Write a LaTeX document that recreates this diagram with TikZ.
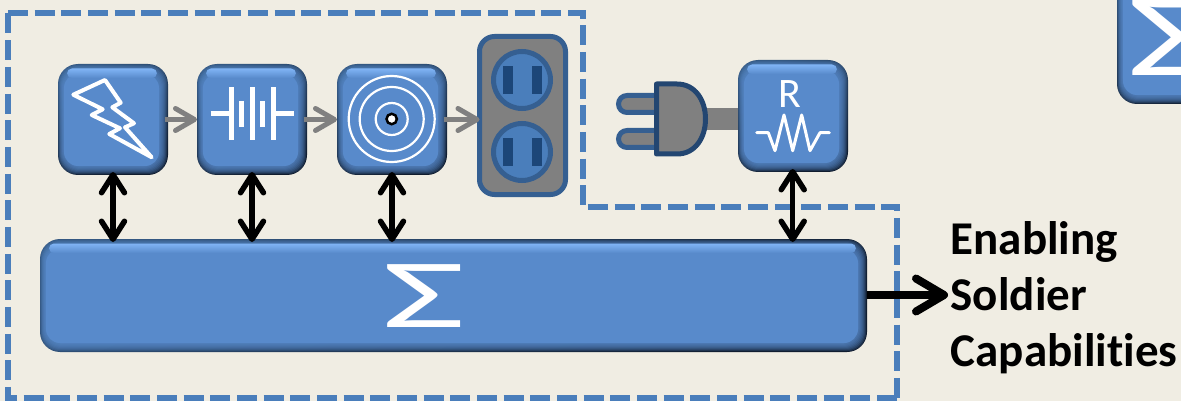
\documentclass[tikz,border=0pt]{standalone}
\usepackage{fontspec}
\setmainfont{Carlito}[Ligatures=NoCommon]
\usetikzlibrary{arrows.meta,calc}
\definecolor{bgc}{RGB}{240,237,227}
\definecolor{face}{RGB}{88,138,203}
\definecolor{edgeA}{RGB}{52,88,130}
\definecolor{edgeB}{RGB}{16,28,46}
\definecolor{hl}{RGB}{128,180,245}
\definecolor{dashc}{RGB}{74,126,187}
\definecolor{outl}{RGB}{53,95,145}
\definecolor{plugl}{RGB}{35,70,113}
\definecolor{slot}{RGB}{28,70,120}
\definecolor{grayc}{RGB}{128,128,128}
\tikzset{
  bevbase/.style={rectangle,rounded corners=20pt,inner sep=0pt,outer sep=0pt,shading=axis,top color=edgeA,bottom color=edgeB,shading angle=25},
  dashb/.style={draw=dashc,line width=6pt,dash pattern=on 20pt off 6.67pt,miter limit=10},
  grayarrow/.style={draw=grayc,line width=5pt,-{Straight Barb[length=19pt,width=22pt,line width=5pt,round]}},
  duplex/.style={draw=black,line width=5.5pt,{Straight Barb[length=18pt,width=23pt,line width=5.5pt,round]}-{Straight Barb[length=18pt,width=23pt,line width=5.5pt,round]},shorten >=-3pt,shorten <=-3pt},
  bigarrow/.style={draw=black,line width=8pt,-{Straight Barb[length=28pt,width=33pt,line width=8pt,round]}},
  wht/.style={draw=white,line join=round,line cap=round},
  sigmatxt/.style={text=white,inner sep=0pt},
  capt/.style={inner sep=0pt,align=left,anchor=west,text=black,font=\fontsize{47}{56}\selectfont\bfseries},
  sock/.style={draw=outl,line width=5pt,fill=dashc},
  slotb/.style={fill=slot},
  prong/.style={draw=outl,line width=5pt,fill=grayc},
}
\newcommand{\bevbox}[5]{%
  \node[bevbase,minimum width=#4pt-#2pt,minimum height=#5pt-#3pt] (#1) at ({(#2+#4)/2},{(#3+#5)/2}) {};
  \foreach \k in {1,...,9}{
    \fill[face,opacity=.2,rounded corners=18pt] ({#2+.65*\k},{#3+1.0*\k}) rectangle ({#4-1.0*\k},{#5-1.0*\k});
  }
  \fill[face,rounded corners=14pt] ({#2+6},{#3+10}) rectangle ({#4-9},{#5-9});
  \shade[top color=hl,bottom color=face,rounded corners=5pt] ({#2+9},{#3+4.5}) rectangle ({#4-11},{#3+14});
}
\begin{document}
\begin{tikzpicture}[x=1pt,y=-1pt]
\useasboundingbox (0,0) rectangle (1181,401);
\clip (0,0) rectangle (1181,401);
\fill[bgc] (0,0) rectangle (1181,401);
% dashed boundary
\coordinate (tl) at (8,13.5);
\coordinate (n1) at (583,13.5);
\coordinate (n2) at (583,207);
\coordinate (n3) at (897,207);
\coordinate (br) at (897,398);
\coordinate (bl) at (8,398);
\draw[dashb] (tl) -- (n1) -- (n2) -- (n3) -- (br);
\draw[dashb] (tl) -- (bl) -- (br);
% boxes
\bevbox{src}{58}{64}{168}{175}
\bevbox{bat}{197}{64}{307}{175}
\bevbox{tgt}{337}{64}{447}{175}
\bevbox{res}{738}{60}{848}{172}
\bevbox{bus}{40}{239}{867}{352}
\bevbox{ctl}{1117}{-60}{1300}{104}
% sigma
\node[sigmatxt,font=\fontsize{98}{98}\selectfont] (sig1) at (424.5,296.5) {\scalebox{1.85}[1]{Σ}};
\node[sigmatxt,font=\fontsize{118}{118}\selectfont] (sig2) at (1171,38) {\scalebox{1.6}[1]{Σ}};
% bolt
\draw[wht,line width=4pt] (73.3,94.7) -- (105,80) -- (120.7,102.7) -- (112.3,107.3) -- (134,123.3) -- (125,127.3) -- (151.7,157.3) -- (109.3,134) -- (120,128.3) -- (91.7,115) -- (102.7,109.3) -- cycle;
% battery
\draw[white,line width=5pt] (210.7,114) -- (231,114) (273.3,114) -- (294,114)
  (231,87.3) -- (231,140) (252.3,87.3) -- (252.3,140) (273.3,87.3) -- (273.3,140)
  (241.7,101) -- (241.7,127) (262.7,101) -- (262.7,127);
% target
\coordinate (tc) at (391.7,119);
\draw[white,line width=2.2pt] (tc) circle (43) (tc) circle (32) (tc) circle (16);
\draw[black,fill=white,line width=2.5pt] (tc) circle (5.2);
% R + resistor
\node[text=white,inner sep=0pt,font=\fontsize{42}{42}\selectfont] (rlab) at (790,94) {R};
\draw[wht,line width=3pt] (756.7,132.7) -- (768.3,132.7) -- (775,150.7) -- (784,115) -- (792.7,150.7) -- (801.7,115) -- (810,150.7) -- (820,132.7) -- (829.3,132.7);
% outlet
\node[draw=outl,line width=5pt,fill=grayc,rounded corners=15pt,inner sep=0pt,outer sep=0pt,minimum width=86pt,minimum height=158pt] (outlet) at (522.5,115.5) {};
\draw[sock] (522,80) circle (28.5);
\draw[sock] (522,152) circle (28.5);
\fill[slotb] (502.7,65.7) rectangle (513.3,94.3);
\fill[slotb] (531.7,65.7) rectangle (542.3,94.3);
\fill[slotb] (502.7,137.7) rectangle (513.3,166);
\fill[slotb] (531.7,137.7) rectangle (542.3,166);
% plug
\coordinate (plugc) at (690,119);
\draw[grayc,line width=22pt] (plugc) -- (plugc -| res.west);
\draw[prong] (665,95.5) -- (627,95.5) arc (270:90:8.5) -- (665,112.5);
\draw[prong] (665,130.5) -- (627,130.5) arc (270:90:8.5) -- (665,147.5);
\draw[draw=plugl,line width=5pt,fill=grayc,line join=round] (656.5,84) -- (677,84) .. controls (695,84) and (705.5,100) .. (705.5,119) .. controls (705.5,138) and (695,154) .. (677,154) -- (656.5,154) -- cycle;
% arrows
\draw[grayarrow] ([xshift=-3pt]src.east) -- (bat.west);
\draw[grayarrow] ([xshift=-3pt]bat.east) -- (tgt.west);
\draw[grayarrow] ([xshift=-3pt]tgt.east) -- (tgt.east -| outlet.west);
\draw[duplex] (src.south) -- (src.south |- bus.north);
\draw[duplex] (bat.south) -- (bat.south |- bus.north);
\draw[duplex] (tgt.south) -- (tgt.south |- bus.north);
\draw[duplex] ([xshift=-0.3pt]res.south) -- ([xshift=-0.3pt]res.south |- bus.north);
% caption
\node[capt] (cap) at (950.5,298) {Enabling\\Soldier\\Capabilities};
\coordinate (capin) at (948,295);
\draw[bigarrow] (bus.east |- capin) -- (capin);
\end{tikzpicture}
\end{document}
